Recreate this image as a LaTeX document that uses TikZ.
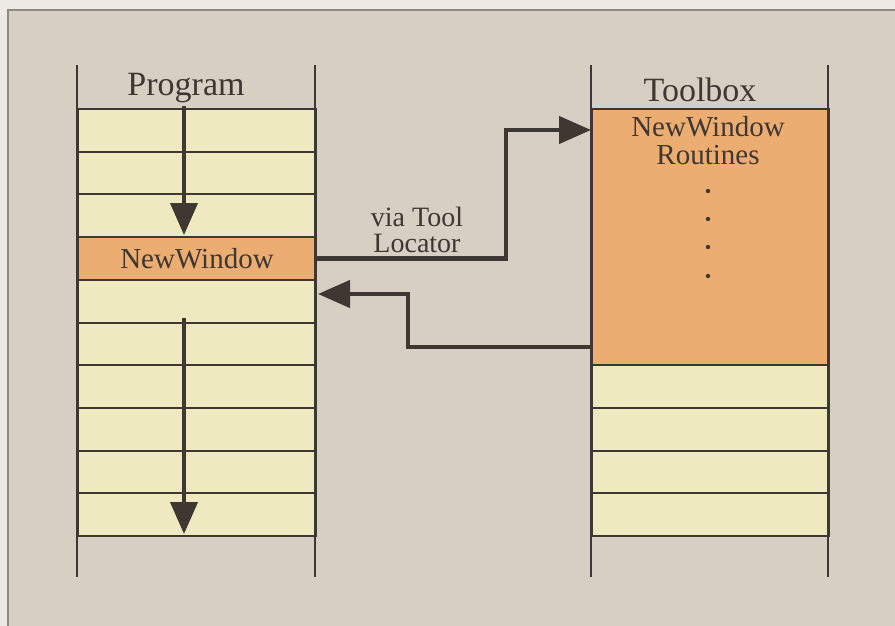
\documentclass[tikz,border=0pt]{standalone}
\usepackage{fontspec}
\setmainfont{Liberation Serif}
\usetikzlibrary{arrows.meta}
\definecolor{bgc}{HTML}{D7CFC4}
\definecolor{outc}{HTML}{EDE9E4}
\definecolor{framec}{HTML}{8E8882}
\definecolor{cellc}{HTML}{EFE9C0}
\definecolor{orangec}{HTML}{ECAD72}
\definecolor{inkc}{HTML}{3E3732}
\tikzset{
  cell/.style={draw=inkc, line width=2pt, fill=cellc, minimum width=238pt, minimum height=42.7pt, inner sep=0pt, anchor=north west},
  hotcell/.style={cell, fill=orangec},
  colline/.style={draw=inkc, line width=2pt},
  head/.style={text=inkc, font=\fontsize{34}{38}\selectfont, inner sep=0pt},
  body/.style={text=inkc, font=\fontsize{29}{29}\selectfont, inner sep=0pt},
  conn/.style={draw=inkc, line width=4.5pt, -{Triangle[width=27pt,length=32pt]}},
  dotm/.style={circle, fill=inkc, inner sep=0pt, minimum size=4.5pt}
}
\begin{document}
\begin{tikzpicture}[x=1pt,y=-1pt]
\useasboundingbox (0,0) rectangle (895,626);
\fill[outc] (0,0) rectangle (895,626);
\fill[bgc] (8,10) rectangle (895,626);
\draw[framec, line width=1.5pt] (8,626) -- (8,10) -- (895,10);

% Program column
\foreach \i in {1,...,10} {
  \pgfmathsetmacro{\yy}{108+(\i-1)*42.7}
  \node[cell] (p\i) at (77,\yy) {};
}
\node[hotcell] (p4) at (77,236.1) {};
\node[body] at (p4.center) {NewWindow};
\draw[colline] (77,65) -- (77,577);
\draw[colline] (315,65) -- (315,577);
\node[head] (prog) at (186,88) {Program};

% Toolbox column
\node[hotcell, minimum width=237pt, minimum height=256.2pt] (tr) at (591,108) {};
\foreach \i in {1,...,4} {
  \pgfmathsetmacro{\yy}{364.2+(\i-1)*42.7}
  \node[cell, minimum width=237pt] (t\i) at (591,\yy) {};
}
\draw[colline] (591,65) -- (591,577);
\draw[colline] (828,65) -- (828,577);
\node[head] (tbox) at (700,90) {Toolbox};
\node[body, align=center, font=\fontsize{29}{28}\selectfont] (nwr) at (708,141) {NewWindow\\Routines};
\node[dotm] (d1) at (708,191) {};
\node[dotm] (d2) at (708,219) {};
\node[dotm] (d3) at (708,247) {};
\node[dotm] (d4) at (708,276) {};

% program flow arrows
\coordinate (a1s) at (184,106);
\coordinate (a1e) at (184,235);
\draw[conn, line width=4pt] (a1s) -- (a1e);
\coordinate (a2s) at (184,318);
\coordinate (a2e) at (184,534);
\draw[conn, line width=4pt] (a2s) -- (a2e);

% calls
\draw[conn] (p4.east) -| (506,130) -- (tr.west |- 0,130);
\draw[conn] (tr.west |- 0,347) -- (408,347) -- (408,294) -- (318,294);
\node[body, align=center, font=\fontsize{28}{26}\selectfont] (via) at (417,230) {via Tool\\Locator};
\end{tikzpicture}
\end{document}
